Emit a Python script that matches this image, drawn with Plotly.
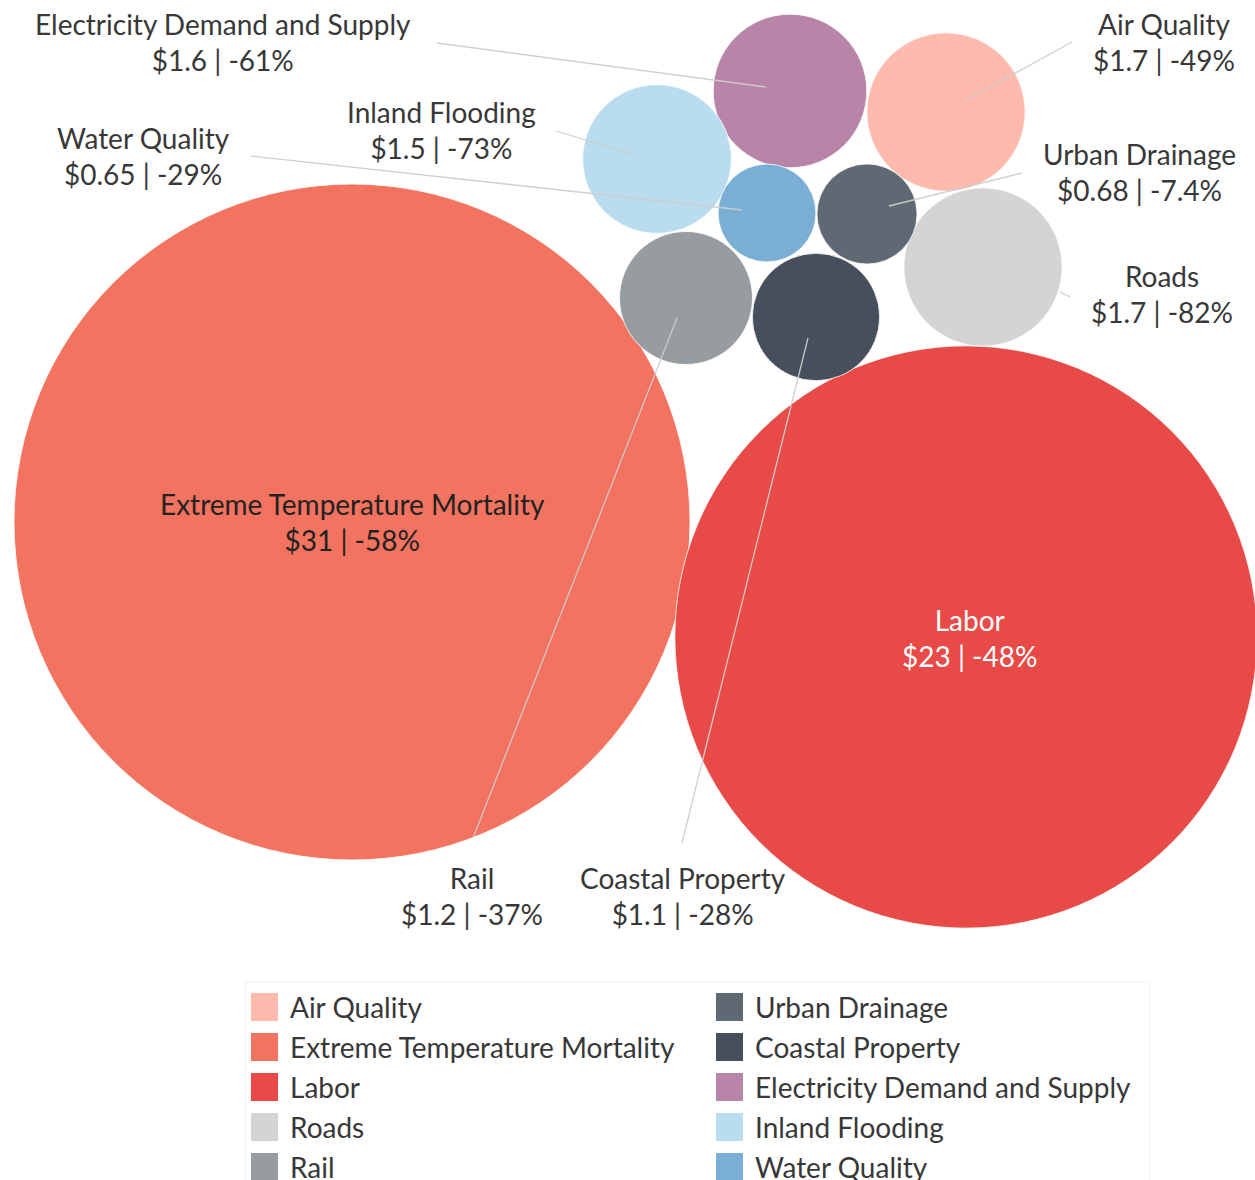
import plotly.graph_objects as go

# Annual damages by sector ($ billions) and the share avoided under mitigation
categories = ["Air Quality", "Extreme Temperature Mortality", "Labor", "Roads", "Rail",
              "Urban Drainage", "Coastal Property", "Electricity Demand and Supply",
              "Inland Flooding", "Water Quality"]
damages = [1.7, 31, 23, 1.7, 1.2, 0.68, 1.1, 1.6, 1.5, 0.65]
damage_labels = ["$1.7", "$31", "$23", "$1.7", "$1.2", "$0.68", "$1.1", "$1.6", "$1.5", "$0.65"]
change_labels = ["-49%", "-58%", "-48%", "-82%", "-37%", "-7.4%", "-28%", "-61%", "-73%", "-29%"]

colors = ["#FDBAAD", "#F2735F", "#E84A47", "#D4D4D4", "#969C9F",
          "#5F6974", "#474F5D", "#B884A8", "#B9DCEF", "#7AAED5"]

# Packed bubble layout (pixel canvas, y downward)
centers = {
    "Air Quality": (946, 112),
    "Extreme Temperature Mortality": (352, 522),
    "Labor": (966, 637),
    "Roads": (983, 267),
    "Rail": (686, 298),
    "Urban Drainage": (867, 214),
    "Coastal Property": (816, 317),
    "Electricity Demand and Supply": (790, 91),
    "Inland Flooding": (657, 159),
    "Water Quality": (767, 213),
}
# label anchor (centre of two-line label) and leader line (label end -> bubble end)
label_pos = {
    "Air Quality": (1164, 42),
    "Extreme Temperature Mortality": (352, 522),
    "Labor": (969, 638),
    "Roads": (1162, 294),
    "Rail": (472, 896),
    "Urban Drainage": (1139, 172),
    "Coastal Property": (683, 896),
    "Electricity Demand and Supply": (223, 42),
    "Inland Flooding": (441, 130),
    "Water Quality": (143, 156),
}
leaders = {
    "Air Quality": ((1072, 42), (966, 100)),
    "Roads": ((1070, 297), (1060, 292)),
    "Rail": ((473, 838), (677, 318)),
    "Urban Drainage": ((1022, 173), (889, 206)),
    "Coastal Property": ((682, 843), (808, 338)),
    "Electricity Demand and Supply": ((437, 43), (766, 87)),
    "Inland Flooding": ((556, 131), (636, 155)),
    "Water Quality": ((251, 156), (742, 210)),
}
legend_cols = [categories[:5], categories[5:]]

W, H = 1255, 1180
FONT = "Lato, 'Open Sans', sans-serif"
FONT_SIZE = 28
TEXT = "#383838"

# bubble area proportional to damages; largest bubble radius 338 px
max_r = 338
sizeref = max(damages) / (2 * max_r ** 2)

fig = go.Figure()
fig.add_trace(go.Scatter(
    x=[centers[c][0] for c in categories],
    y=[centers[c][1] for c in categories],
    mode="markers",
    marker=dict(size=damages, sizemode="area", sizeref=sizeref, color=colors,
                opacity=1, line=dict(width=1, color="rgba(255,255,255,0.8)")),
    text=categories,
    hoverinfo="text",
    showlegend=False,
    cliponaxis=False,
))

shapes = []
for cat, ((x0, y0), (x1, y1)) in leaders.items():
    shapes.append(dict(type="line", x0=x0, y0=y0, x1=x1, y1=y1, xref="x", yref="y",
                       line=dict(color="rgba(205,205,205,0.95)", width=1.3), layer="above"))

annotations = []
for i, cat in enumerate(categories):
    lx, ly = label_pos[cat]
    if cat == "Labor":
        col = "#FFFFFF"
    elif cat == "Extreme Temperature Mortality":
        col = "#222222"
    else:
        col = TEXT
    annotations.append(dict(
        x=lx, y=ly, xref="x", yref="y", showarrow=False,
        text=f"{cat}<br>{damage_labels[i]} | {change_labels[i]}",
        font=dict(family=FONT, size=FONT_SIZE, color=col), align="center",
        xanchor="center", yanchor="middle"))

# legend: two columns of square swatches
shapes.append(dict(type="rect", x0=245, y0=982, x1=1150, y1=1182, xref="x", yref="y",
                   line=dict(color="#F2F2F2", width=1), fillcolor="rgba(0,0,0,0)", layer="below"))
col_x = [251, 716]
for ci, col in enumerate(legend_cols):
    for ri, cat in enumerate(col):
        idx = categories.index(cat)
        yc = 1007 + ri * 40
        shapes.append(dict(type="rect", x0=col_x[ci], x1=col_x[ci] + 27, y0=yc - 14, y1=yc + 14,
                           xref="x", yref="y", fillcolor=colors[idx], line=dict(width=0)))
        annotations.append(dict(x=col_x[ci] + 37, y=yc, xref="x", yref="y", showarrow=False,
                                text=cat, xanchor="left", yanchor="middle",
                                font=dict(family=FONT, size=FONT_SIZE, color=TEXT)))

fig.update_layout(
    width=W, height=H, autosize=False,
    margin=dict(l=0, r=0, t=0, b=0),
    paper_bgcolor="white", plot_bgcolor="white",
    xaxis=dict(range=[0, W], visible=False, fixedrange=True),
    yaxis=dict(range=[H, 0], visible=False, fixedrange=True),
    shapes=shapes, annotations=annotations,
)

fig.write_html("out.html")
